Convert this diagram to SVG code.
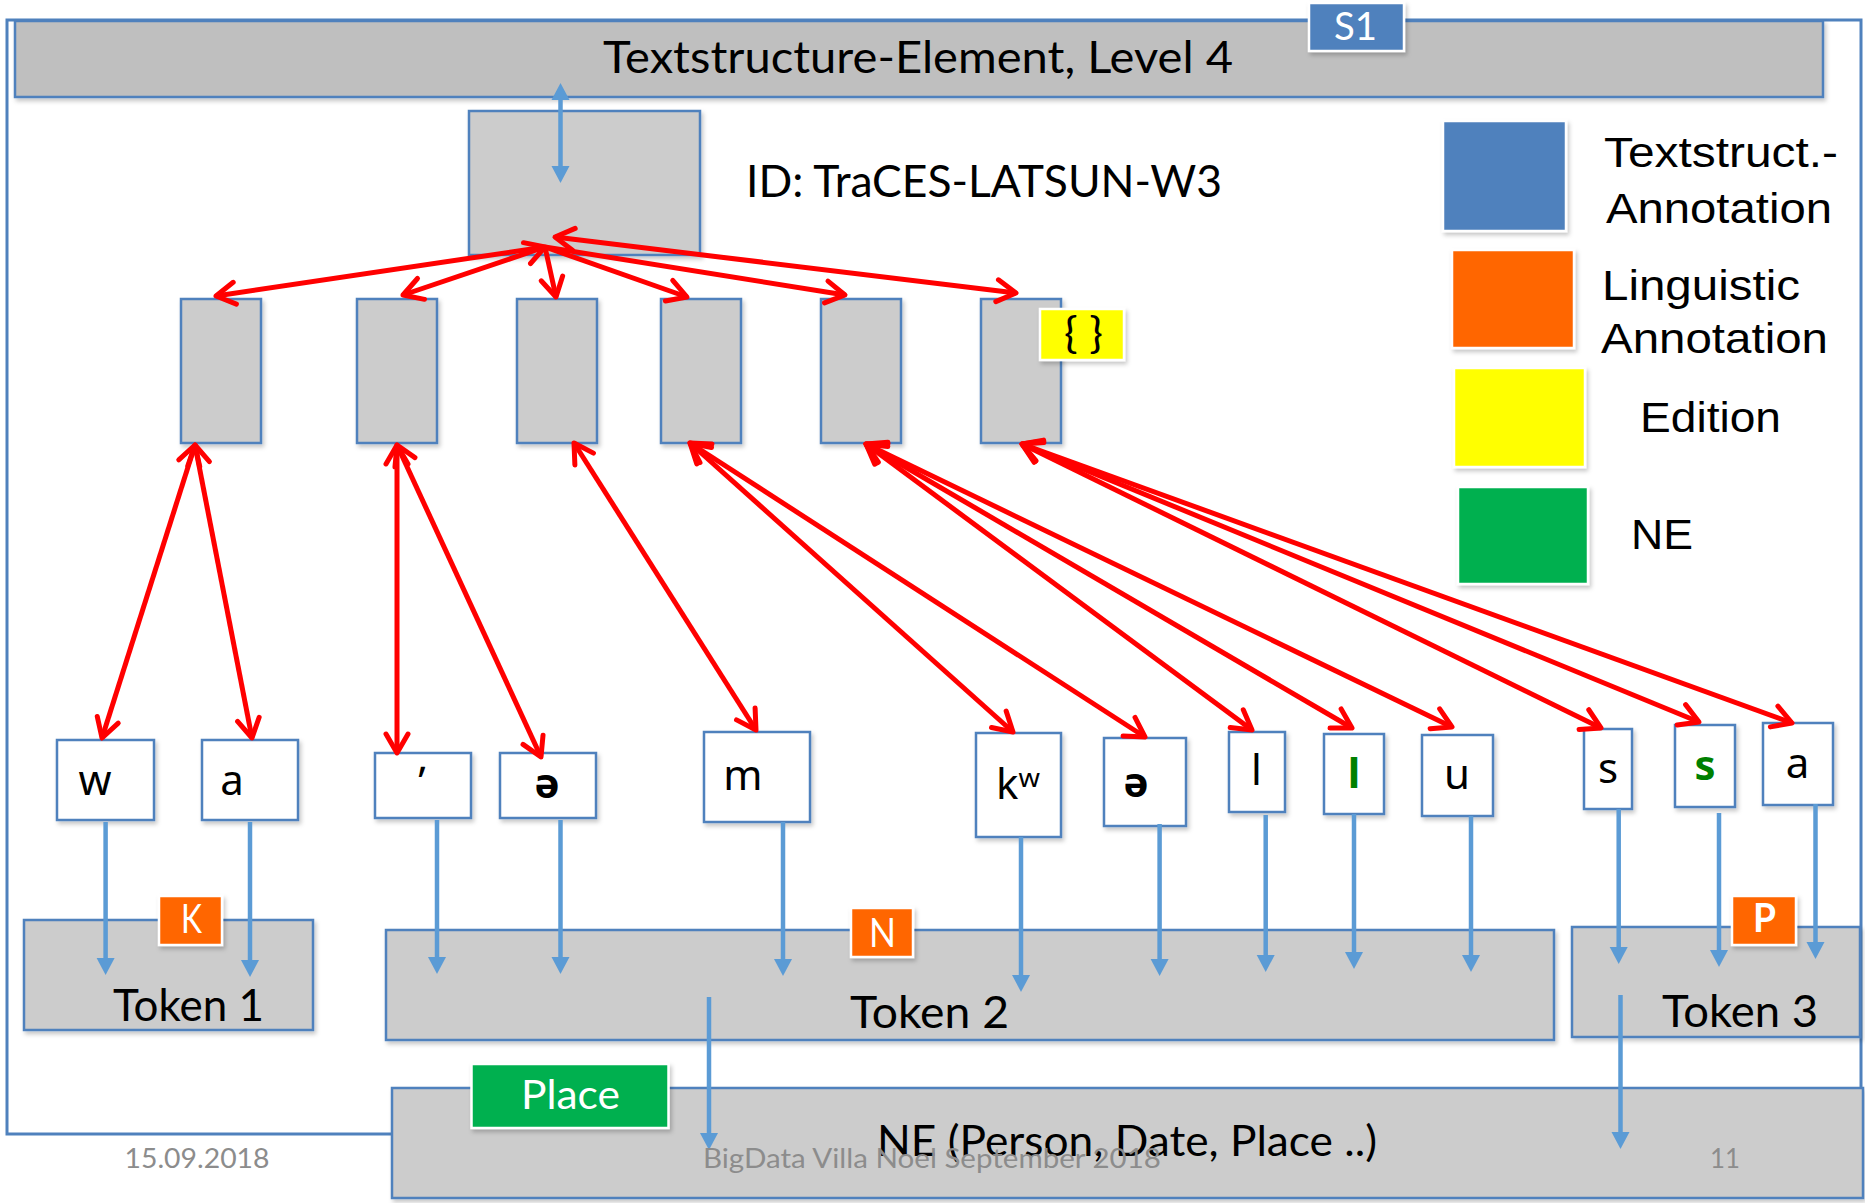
<svg xmlns="http://www.w3.org/2000/svg" width="1865" height="1203" viewBox="0 0 1865 1203">
  <style>
    .frame { fill: none; stroke: #4F81BD; stroke-width: 3; }
    .box { fill: #CCCCCC; stroke: #4F81BD; stroke-width: 2.5; }
    .bar { fill: #BFBFBF; stroke: #4F81BD; stroke-width: 2.5; }
    .letter { fill: #FFFFFF; stroke: #4F81BD; stroke-width: 2.5; }
    .badge { stroke: #FFFFFF; stroke-width: 2.5; }
    .cal { font-family: Lato, "Open Sans", sans-serif; fill: #000000; }
    .ar { font-family: "Liberation Sans", Arial, sans-serif; fill: #000000; font-size: 42px; }
    .ipa { font-family: "Noto Sans", "DejaVu Sans", sans-serif; font-size: 42px; fill: #000000; text-anchor: middle; }
    .green { fill: #008000; font-weight: bold; }
    .foot { font-family: Lato, "Open Sans", sans-serif; font-size: 26px; fill: #8C8C8C; }
    .red { fill: none; stroke: #FF0000; stroke-width: 5; marker-end: url(#redHead); }
    .red2 { marker-start: url(#redHead); }
    .blue { fill: none; stroke: #5B9BD5; stroke-width: 4.5; marker-end: url(#blueHead); }
  </style>
  <defs>
    <filter id="shadow" x="-20%" y="-20%" width="150%" height="160%">
      <feDropShadow dx="2" dy="3" stdDeviation="2" flood-color="#000000" flood-opacity="0.22"/>
    </filter>
    <marker id="redHead" viewBox="-24 -14 28 28" refX="0" refY="0" markerWidth="28" markerHeight="28" markerUnits="userSpaceOnUse" orient="auto-start-reverse">
      <path d="M-19,-11 L0,0 L-19,11" fill="none" stroke="#FF0000" stroke-width="5" stroke-linecap="round" stroke-linejoin="round"/>
    </marker>
    <marker id="blueHead" viewBox="0 -10 18 20" refX="0" refY="0" markerWidth="18" markerHeight="20" markerUnits="userSpaceOnUse" orient="auto-start-reverse">
      <path d="M0,-9 L17,0 L0,9 Z" fill="#5B9BD5"/>
    </marker>
  </defs>

  <rect width="1865" height="1203" fill="#FFFFFF"/>

  <!-- outer frame of the structure element -->
  <rect id="frame" class="frame" x="7" y="20" width="1854" height="1114"/>

  <!-- level 4 bar -->
  <g id="level4">
    <rect class="bar" x="15" y="21" width="1808" height="76" filter="url(#shadow)"/>
    <text class="cal" x="603" y="73" font-size="44" textLength="630" lengthAdjust="spacingAndGlyphs">Textstructure-Element, Level 4</text>
  </g>
  <g id="badge-s1">
    <rect class="badge" x="1309" y="3" width="95" height="48" fill="#4F81BD" filter="url(#shadow)"/>
    <text class="cal" x="1334" y="40" font-size="39" fill="#FFFFFF" style="fill:#FFFFFF" textLength="43" lengthAdjust="spacingAndGlyphs">S1</text>
  </g>

  <!-- word node -->
  <g id="word">
    <rect class="box" x="469" y="111" width="231" height="144" filter="url(#shadow)"/>
  </g>
  <text id="word-id" class="cal" x="746" y="197" font-size="44" textLength="476" lengthAdjust="spacingAndGlyphs">ID: TraCES-LATSUN-W3</text>

  <!-- grapheme nodes -->
  <g id="g1"><rect class="box" x="181" y="299" width="80" height="144" filter="url(#shadow)"/></g>
  <g id="g2"><rect class="box" x="357" y="299" width="80" height="144" filter="url(#shadow)"/></g>
  <g id="g3"><rect class="box" x="517" y="299" width="80" height="144" filter="url(#shadow)"/></g>
  <g id="g4"><rect class="box" x="661" y="299" width="80" height="144" filter="url(#shadow)"/></g>
  <g id="g5"><rect class="box" x="821" y="299" width="80" height="144" filter="url(#shadow)"/></g>
  <g id="g6">
    <rect class="box" x="981" y="299" width="80" height="144" filter="url(#shadow)"/>
    <rect class="badge" x="1040" y="309" width="84" height="51" fill="#FFFF00" filter="url(#shadow)"/>
    <text class="cal" x="1064" y="348" font-size="42" textLength="39" lengthAdjust="spacingAndGlyphs">{ }</text>
  </g>

  <!-- legend -->
  <g id="legend">
    <rect class="badge" x="1443" y="121" width="123" height="110" fill="#4F81BD" filter="url(#shadow)"/>
    <text class="ar" x="1604" y="167" textLength="234" lengthAdjust="spacingAndGlyphs">Textstruct.-</text>
    <text class="ar" x="1606" y="223" textLength="226" lengthAdjust="spacingAndGlyphs">Annotation</text>
    <rect class="badge" x="1452" y="250" width="122" height="98" fill="#FF6600" filter="url(#shadow)"/>
    <text class="ar" x="1602" y="300" textLength="198" lengthAdjust="spacingAndGlyphs">Linguistic</text>
    <text class="ar" x="1601" y="353" textLength="227" lengthAdjust="spacingAndGlyphs">Annotation</text>
    <rect class="badge" x="1454" y="368" width="131" height="99" fill="#FFFF00" filter="url(#shadow)"/>
    <text class="ar" x="1640" y="432" textLength="141" lengthAdjust="spacingAndGlyphs">Edition</text>
    <rect class="badge" x="1458" y="487" width="130" height="97" fill="#00B050" filter="url(#shadow)"/>
    <text class="ar" x="1631" y="549" textLength="62" lengthAdjust="spacingAndGlyphs">NE</text>
  </g>

  <!-- character nodes -->
  <g id="c-w"><rect class="letter" x="57" y="740" width="97" height="80" filter="url(#shadow)"/><text class="ipa" x="95" y="795">w</text></g>
  <g id="c-a1"><rect class="letter" x="202" y="740" width="96" height="80" filter="url(#shadow)"/><text class="ipa" x="232" y="795">a</text></g>
  <g id="c-apos"><rect class="letter" x="375" y="753" width="96" height="65" filter="url(#shadow)"/><text class="ipa" x="422" y="797">ʼ</text></g>
  <g id="c-schwa1"><rect class="letter" x="500" y="753" width="96" height="65" filter="url(#shadow)"/><text class="ipa" x="547" y="798" font-weight="bold">ə</text></g>
  <g id="c-m"><rect class="letter" x="704" y="732" width="106" height="90" filter="url(#shadow)"/><text class="ipa" x="743" y="790">m</text></g>
  <g id="c-kw"><rect class="letter" x="976" y="733" width="85" height="104" filter="url(#shadow)"/><text class="ipa" x="1018" y="799">kʷ</text></g>
  <g id="c-schwa2"><rect class="letter" x="1104" y="738" width="82" height="88" filter="url(#shadow)"/><text class="ipa" x="1136" y="797" font-weight="bold">ə</text></g>
  <g id="c-l1"><rect class="letter" x="1229" y="732" width="56" height="80" filter="url(#shadow)"/><text class="ipa" x="1256.5" y="785">l</text></g>
  <g id="c-l2"><rect class="letter" x="1324" y="734" width="60" height="80" filter="url(#shadow)"/><text class="ipa green" x="1354" y="788">l</text></g>
  <g id="c-u"><rect class="letter" x="1422" y="735" width="71" height="81" filter="url(#shadow)"/><text class="ipa" x="1457" y="789">u</text></g>
  <g id="c-s1"><rect class="letter" x="1584" y="729" width="48" height="80" filter="url(#shadow)"/><text class="ipa" x="1608" y="783">s</text></g>
  <g id="c-s2"><rect class="letter" x="1675" y="725" width="60" height="82" filter="url(#shadow)"/><text class="ipa green" x="1705" y="780">s</text></g>
  <g id="c-a2"><rect class="letter" x="1763" y="723" width="70" height="82" filter="url(#shadow)"/><text class="ipa" x="1797.5" y="778">a</text></g>

  <!-- token nodes -->
  <g id="token1">
    <rect class="box" x="24" y="920" width="289" height="110" filter="url(#shadow)"/>
    <text class="cal" x="113" y="1021" font-size="45" textLength="151" lengthAdjust="spacingAndGlyphs">Token 1</text>
  </g>
  <g id="token2">
    <rect class="box" x="386" y="930" width="1168" height="110" filter="url(#shadow)"/>
    <text class="cal" x="850" y="1028" font-size="45" textLength="159" lengthAdjust="spacingAndGlyphs">Token 2</text>
  </g>
  <g id="token3">
    <rect class="box" x="1572" y="927" width="288" height="110" filter="url(#shadow)"/>
    <text class="cal" x="1662" y="1027" font-size="45" textLength="156" lengthAdjust="spacingAndGlyphs">Token 3</text>
  </g>

  <!-- named entity node -->
  <g id="ne">
    <rect class="box" x="392" y="1088" width="1471" height="110" filter="url(#shadow)"/>
    <text class="cal" x="877" y="1156" font-size="42" textLength="500" lengthAdjust="spacingAndGlyphs">NE (Person, Date, Place ..)</text>
  </g>

  <!-- connectors -->
  <g id="connectors">
    <!-- word to level 4 -->
    <path class="blue" style="marker-start:url(#blueHead)" d="M560.5,100 L560.5,166"/>

    <!-- word to graphemes -->
    <path class="red" d="M545,247 L216,296"/>
    <path class="red red2" d="M545,247 L403,295"/>
    <path class="red" d="M545,247 L556,297"/>
    <path class="red" d="M545,247 L687,297"/>
    <path class="red" d="M545,247 L845,295"/>
    <path class="red red2" d="M555,237 L1016,293"/>

    <!-- graphemes to characters -->
    <path class="red red2" d="M195,445 L102,738"/>
    <path class="red red2" d="M195,445 L252,738"/>
    <path class="red red2" d="M397,445 L397,753"/>
    <path class="red red2" d="M397,445 L541,757"/>
    <path class="red red2" d="M574,443 L756,730"/>
    <path class="red red2" d="M690,443 L1013,732"/>
    <path class="red red2" d="M690,443 L1145,737"/>
    <path class="red red2" d="M866,444 L1252,730"/>
    <path class="red red2" d="M866,444 L1352,728"/>
    <path class="red red2" d="M866,444 L1452,727"/>
    <path class="red red2" d="M1022,444 L1601,728"/>
    <path class="red red2" d="M1022,444 L1699,722"/>
    <path class="red red2" d="M1022,444 L1792,723"/>

    <!-- characters to tokens -->
    <path class="blue" d="M105.6,822 L105.6,958"/>
    <path class="blue" d="M250,822 L250,960"/>
    <path class="blue" d="M437,820 L437,957"/>
    <path class="blue" d="M560.5,820 L560.5,957"/>
    <path class="blue" d="M783,822 L783,959"/>
    <path class="blue" d="M1021,837 L1021,975"/>
    <path class="blue" d="M1159.6,824 L1159.6,959"/>
    <path class="blue" d="M1265.7,815 L1265.7,955"/>
    <path class="blue" d="M1354,814 L1354,952"/>
    <path class="blue" d="M1471,816 L1471,955"/>
    <path class="blue" d="M1618.7,809 L1618.7,947"/>
    <path class="blue" d="M1719,813 L1719,950"/>
    <path class="blue" d="M1815.5,804 L1815.5,942"/>

    <!-- tokens to named entity -->
    <path class="blue" d="M709,997 L709,1133"/>
    <path class="blue" d="M1620.5,995 L1620.5,1132"/>
  </g>

  <!-- annotation badges -->
  <g id="badge-k">
    <rect class="badge" x="159" y="896" width="63" height="49" fill="#FF6600" filter="url(#shadow)"/>
    <text class="cal" x="181" y="933" font-size="40" style="fill:#FFFFFF" textLength="21" lengthAdjust="spacingAndGlyphs">K</text>
  </g>
  <g id="badge-n">
    <rect class="badge" x="851" y="908" width="62" height="49" fill="#FF6600" filter="url(#shadow)"/>
    <text class="cal" x="869" y="947" font-size="40" style="fill:#FFFFFF" textLength="27" lengthAdjust="spacingAndGlyphs">N</text>
  </g>
  <g id="badge-p">
    <rect class="badge" x="1732" y="896" width="64" height="49" fill="#FF6600" filter="url(#shadow)"/>
    <text class="cal" x="1753" y="932" font-size="40" font-weight="bold" style="fill:#FFFFFF" textLength="23" lengthAdjust="spacingAndGlyphs">P</text>
  </g>
  <g id="badge-place">
    <rect class="badge" x="471.5" y="1064" width="197" height="64" fill="#00B050" filter="url(#shadow)"/>
    <text class="cal" x="521" y="1109" font-size="40" style="fill:#FFFFFF" textLength="99" lengthAdjust="spacingAndGlyphs">Place</text>
  </g>

  <!-- footer -->
  <g id="footer">
    <text class="foot" x="124.5" y="1168" textLength="145" lengthAdjust="spacingAndGlyphs">15.09.2018</text>
    <text class="foot" x="703" y="1168" textLength="458" lengthAdjust="spacingAndGlyphs">BigData Villa Noel September 2018</text>
    <text class="foot" x="1710" y="1168" textLength="30" lengthAdjust="spacingAndGlyphs">11</text>
  </g>
</svg>
